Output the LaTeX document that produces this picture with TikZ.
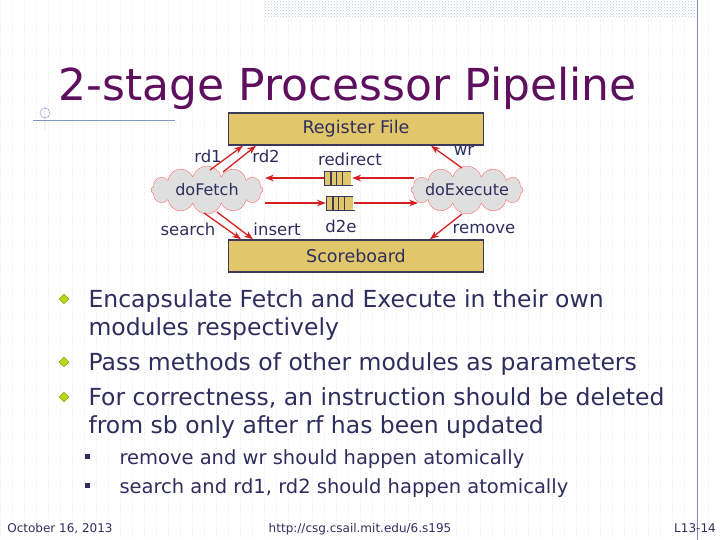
\documentclass[tikz,border=0pt]{standalone}
\usepackage{fontspec}
\setmainfont{DejaVu Sans}
\usetikzlibrary{shapes.geometric, shapes.symbols, arrows.meta, positioning, patterns}
\definecolor{boxfill}{HTML}{E2C76A}
\definecolor{boxline}{HTML}{3C3A5C}
\definecolor{txtblue}{HTML}{2E2E5E}
\definecolor{titlepurple}{HTML}{5E0F5E}
\definecolor{arrowred}{HTML}{D42020}
\definecolor{decoblue}{HTML}{7F95C6}

\begin{document}
\begin{tikzpicture}[
    x=1pt, y=-1pt,
    unit/.style={rectangle, draw=boxline, line width=1.5pt, fill=boxfill, minimum width=255pt, minimum height=32pt, font=\fontsize{17.5}{20}\selectfont, text=txtblue},
    rule/.style={cloud, cloud puffs=12, cloud ignores aspect, draw=red!60, fill=gray!25, minimum width=112pt, minimum height=48pt, inner sep=0pt,
      label={[font=\fontsize{16}{19}\selectfont, text=txtblue]center:#1}},
    fifo/.style={rectangle, draw=boxline, fill=boxfill, minimum width=28pt, minimum height=14pt, inner sep=0pt},
    lbl/.style={font=\fontsize{16.5}{19}\selectfont, text=txtblue},
    arrow/.style={-Stealth, arrowred, line width=1.3pt},
    bullet/.style={font=\fontsize{23.5}{26}\selectfont, text=txtblue, anchor=base west},
    subbullet/.style={font=\fontsize{19.5}{22}\selectfont, text=txtblue, anchor=base west}
]
\useasboundingbox (0,0) rectangle (720,540);

% slide background
\draw[gray!15, dotted, step=12] (0,0) grid (720,540);
\fill[pattern=crosshatch dots, pattern color=decoblue!50] (265,0) rectangle (695,17);
\draw[decoblue] (697,0) -- (697,540);
\draw[decoblue] (33,120) -- (175,120);
\draw[decoblue] (45,113) circle (5pt) (45,106) -- (45,130);

% title
\node[anchor=base west, text=titlepurple, font=\fontsize{44}{48}\selectfont] (title) at (55,101) {2-stage Processor Pipeline};

% units
\node[unit] (rf) at (356,129) {Register File};
\node[unit] (sb) at (356,256) {Scoreboard};
\node[rule=doFetch] (fetch) at (207,190) {};
\node[rule=doExecute] (exec) at (467,190) {};

% fifos
\node[fifo] (redirect) at (338,178) {};
\node[fifo] (d2e) at (340,203) {};
\foreach \f in {redirect, d2e}{
  \foreach \i in {-0.5,-0.1,0.3}
    \draw[boxline, line width=1.2pt] ([xshift=\i*14pt]\f.north) -- ([xshift=\i*14pt]\f.south);
  \draw[white, line width=1.5pt] (\f.north east) -- (\f.south east);
}

% connections
\draw[arrow] ([xshift=-53pt]exec.center |- redirect) -- (redirect.east);
\draw[arrow] (redirect.west) -- ([xshift=58pt]fetch.center |- redirect);
\draw[arrow] ([xshift=58pt]fetch.center |- d2e) -- (d2e.west);
\draw[arrow] (d2e.east) -- ([xshift=-49pt]exec.center |- d2e);
\draw[arrow] ([shift={(3,-20)}]fetch.center) -- ([xshift=-113pt]rf.south);
\draw[arrow] ([shift={(16,-18)}]fetch.center) -- ([xshift=-100pt]rf.south);
\draw[arrow] ([shift={(-3,23)}]fetch.center) -- ([xshift=-115pt]sb.north);
\draw[arrow] ([shift={(10,22)}]fetch.center) -- ([xshift=-103pt]sb.north);
\draw[arrow] ([shift={(-5,-22)}]exec.center) -- ([xshift=75pt]rf.south);
\draw[arrow] ([shift={(-5,24)}]exec.center) -- ([xshift=74pt]sb.north);

% labels
\node[lbl] (l-rd1) at (208,156) {rd1};
\node[lbl] (l-rd2) at (266,156) {rd2};
\node[lbl] (l-redirect) at (350,159) {redirect};
\node[lbl] (l-wr) at (464,151) {wr};
\node[lbl] (l-search) at (188,229) {search};
\node[lbl] (l-insert) at (277,229) {insert};
\node[lbl] (l-d2e) at (341,226) {d2e};
\node[lbl] (l-remove) at (484,229) {remove};

% bullets
\foreach \y in {299,362,397}
  \node[diamond, draw=olive, fill=yellow!70!green, inner sep=0pt, minimum size=10pt] at (64,\y) {};
\node[bullet] (b1) at (85,307) {Encapsulate Fetch and Execute in their own};
\node[bullet] (b1b) at (85,335) {modules respectively};
\node[bullet] (b2) at (85,370) {Pass methods of other modules as parameters};
\node[bullet] (b3) at (85,405) {For correctness, an instruction should be deleted};
\node[bullet] (b3b) at (85,433) {from sb only after rf has been updated};
\foreach \y in {457,486}
  \fill[txtblue] (85,\y-3) rectangle (90,\y+2);
\node[subbullet] (s1) at (116,464) {remove and wr should happen atomically};
\node[subbullet] (s2) at (116,493) {search and rd1, rd2 should happen atomically};

% footer
\node[anchor=base, font=\fontsize{12}{14}\selectfont, text=txtblue] (date) at (60,532) {October 16, 2013};
\node[anchor=base, font=\fontsize{12}{14}\selectfont, text=txtblue] (url) at (360,532) {http://csg.csail.mit.edu/6.s195};
\node[anchor=base, font=\fontsize{12}{14}\selectfont, text=txtblue] (page) at (695,532) {L13-14};
\end{tikzpicture}
\end{document}
